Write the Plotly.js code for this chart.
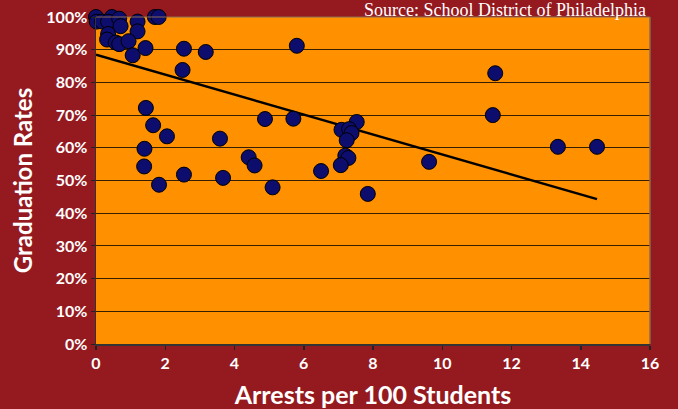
<!DOCTYPE html>
<html>
<head>
<meta charset="utf-8">
<script src="https://cdn.plot.ly/plotly-3.0.1.min.js"></script>
<style>html,body{margin:0;padding:0;background:#951a1f;}#chart{width:678px;height:409px;}</style>
</head>
<body>
<div id="chart"></div>
<script>
// Arrests per 100 students (x) vs graduation rate % (y)
const arrests = [0.00, 0.02, 0.18, 0.46, 0.35, 0.67, 0.71, 1.20, 1.20, 1.70, 1.81,
  0.35, 0.32, 0.57, 0.67, 0.94, 1.06, 1.43, 2.54, 3.17, 2.50, 5.80,
  1.44, 1.65, 2.05, 3.58, 4.88, 5.70, 1.40, 1.39, 1.82, 2.54, 3.67, 4.41, 4.58, 5.10,
  6.50, 7.53, 7.09, 7.31, 7.38, 7.24, 7.20, 7.29, 7.07, 7.85, 9.62,
  11.53, 11.46, 13.34, 14.47];
const gradRates = [100.0, 98.6, 98.6, 100.0, 98.6, 99.5, 97.2, 98.6, 95.6, 100.0, 100.0,
  94.8, 93.1, 92.2, 91.7, 92.6, 88.3, 90.5, 90.3, 89.3, 83.8, 91.2,
  72.2, 66.9, 63.5, 62.8, 68.8, 68.9, 59.7, 54.3, 48.7, 51.8, 50.8, 57.1, 54.6, 47.9,
  52.9, 67.9, 65.5, 65.7, 64.5, 62.3, 57.6, 56.9, 54.7, 45.9, 55.7,
  82.8, 70.0, 60.3, 60.3];
const trendX = [0, 14.47];
const trendY = [88.5, 44.3];
const xTicks = [0, 2, 4, 6, 8, 10, 12, 14, 16];
const yTicks = [0, 10, 20, 30, 40, 50, 60, 70, 80, 90, 100];
const yTickLabels = ['0%', '10%', '20%', '30%', '40%', '50%', '60%', '70%', '80%', '90%', '100%'];

const tickFont = {size: 16, family: 'Lato, sans-serif', weight: 'bold', color: '#ffffff'};

const traces = [
  {x: trendX, y: trendY, mode: 'lines', type: 'scatter',
   line: {color: '#000000', width: 2.5}, hoverinfo: 'skip', showlegend: false},
  {x: arrests, y: gradRates, mode: 'markers', type: 'scatter', cliponaxis: false,
   marker: {size: 15, color: '#0d0d6e', line: {color: '#000000', width: 1}},
   showlegend: false}
];

const layout = {
  width: 678, height: 409,
  paper_bgcolor: '#951a1f', plot_bgcolor: '#ff9000',
  margin: {l: 96, r: 28, t: 17, b: 65},
  font: {family: 'Lato, sans-serif', color: '#ffffff'},
  xaxis: {range: [0, 16], tickvals: xTicks, ticks: 'outside', ticklen: 4, tickcolor: '#222',
    tickwidth: 1.5, showline: true, linecolor: '#333', linewidth: 1.5, showgrid: false, zeroline: false,
    tickfont: tickFont,
    title: {text: '<b>Arrests per 100 Students</b>', font: {size: 25, family: 'Lato, sans-serif', color: '#ffffff'}, standoff: 18}},
  yaxis: {range: [0, 100], tickvals: yTicks, ticktext: yTickLabels, ticks: 'outside', ticklen: 4, tickcolor: '#222',
    showline: true, linecolor: '#333', linewidth: 1.5, showgrid: true, gridcolor: 'rgba(20,10,0,0.85)', gridwidth: 1,
    zeroline: false,
    tickfont: tickFont,
    title: {text: '<b>Graduation Rates</b>', font: {size: 24, family: 'Lato, sans-serif', color: '#ffffff'}, standoff: 7}},
  shapes: [
    {type: 'line', xref: 'paper', yref: 'paper', x0: 1, x1: 1, y0: 0, y1: 1, line: {color: '#8a6a50', width: 1.5}},
    {type: 'line', xref: 'paper', yref: 'paper', x0: 0, x1: 1, y0: 1, y1: 1, line: {color: '#8a6a50', width: 1}}
  ],
  annotations: [
    {text: 'Source: School District of Philadelphia', xref: 'paper', yref: 'paper',
     x: 1, xanchor: 'right', y: 1.022, yanchor: 'middle', showarrow: false,
     xshift: -2, font: {family: '"Liberation Serif", "Times New Roman", serif', size: 18, color: '#ffffff'}}
  ]
};

Plotly.newPlot('chart', traces, layout, {displayModeBar: false, staticPlot: true});
</script>
</body>
</html>
